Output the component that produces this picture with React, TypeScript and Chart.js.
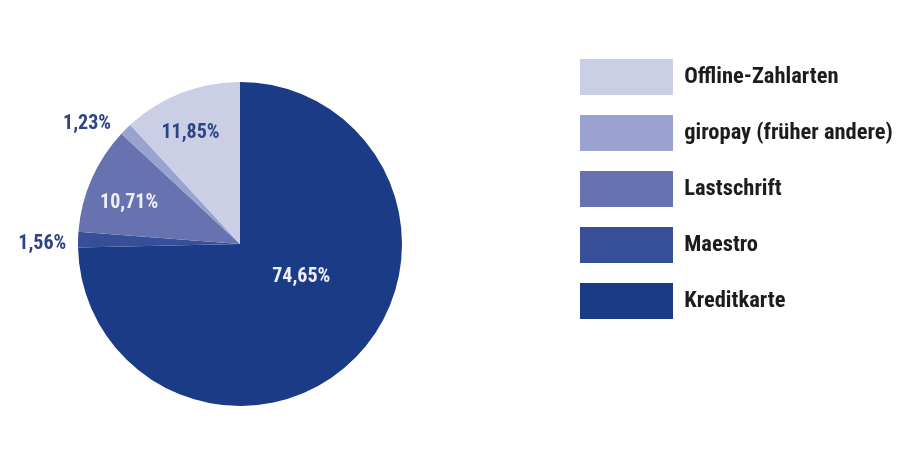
import { useRef, useEffect } from 'react'
import { Chart, registerables, Plugin } from 'chart.js'

Chart.register(...registerables)

const categories = ['Kreditkarte', 'Maestro', 'Lastschrift', 'giropay (früher andere)', 'Offline-Zahlarten']
const shares = [74.65, 1.56, 10.71, 1.23, 11.85]
const sliceColors = ['#1b3b87', '#364f98', '#6673b0', '#9aa2cf', '#cbcfe6']

const NARROW = "'Roboto Condensed', 'Liberation Sans Narrow', sans-serif"

// where each percentage sits: fraction of radius, angle shift from slice middle (deg), colour
const labelPlace = [
  { r: 0.43, shift: -16, color: '#eef0f7' },
  { r: 1.22, shift: -1.6, color: '#2c4384' },
  { r: 0.73, shift: -3.3, color: '#eef0f7' },
  { r: 1.2, shift: -7, color: '#2c4384' },
  { r: 0.75, shift: -2.7, color: '#2c4384' },
]

const percentLabels: Plugin<'pie'> = {
  id: 'percentLabels',
  afterDatasetsDraw(chart) {
    const { ctx } = chart
    const meta = chart.getDatasetMeta(0)
    const values = chart.data.datasets[0].data as number[]
    ctx.save()
    ctx.font = `bold 20px ${NARROW}`
    ctx.textAlign = 'center'
    ctx.textBaseline = 'middle'
    meta.data.forEach((el, i) => {
      const arc = el as any
      const p = labelPlace[i]
      const mid = (arc.startAngle + arc.endAngle) / 2 + (p.shift * Math.PI) / 180
      const rr = arc.outerRadius * p.r
      ctx.fillStyle = p.color
      ctx.fillText(
        values[i].toFixed(2).replace('.', ',') + '%',
        arc.x + Math.cos(mid) * rr,
        arc.y + Math.sin(mid) * rr,
      )
    })
    ctx.restore()
  },
}

export default function App() {
  const canvasRef = useRef<HTMLCanvasElement>(null)
  const chartRef = useRef<Chart<'pie'> | null>(null)

  useEffect(() => {
    document.body.style.margin = '0'
    if (!canvasRef.current) return
    chartRef.current?.destroy()

    chartRef.current = new Chart(canvasRef.current, {
      type: 'pie',
      data: {
        labels: categories,
        datasets: [
          {
            data: shares,
            backgroundColor: sliceColors,
            borderWidth: 0,
            hoverOffset: 0,
            radius: 162,
          },
        ],
      },
      options: {
        responsive: false,
        animation: false,
        layout: { padding: { left: 0, right: 0, top: 39, bottom: 10 } },
        plugins: {
          tooltip: { enabled: false },
          // empty title on the right acts as a gap between pie and legend
          title: {
            display: true,
            text: '',
            position: 'right',
            font: { size: 10, lineHeight: 1 },
            padding: { top: 35, bottom: 35 },
          },
          legend: {
            position: 'right',
            align: 'start',
            reverse: true,
            weight: 3000,
            maxWidth: 340,
            labels: {
              boxWidth: 93,
              boxHeight: 36,
              padding: 20,
              color: '#1c1c1c',
              font: { family: NARROW, size: 22.5, weight: 'bold' },
            },
          },
        },
      },
      plugins: [percentLabels],
    })

    return () => {
      chartRef.current?.destroy()
    }
  }, [])

  return <canvas ref={canvasRef} width={900} height={459} style={{ display: 'block' }} />
}
